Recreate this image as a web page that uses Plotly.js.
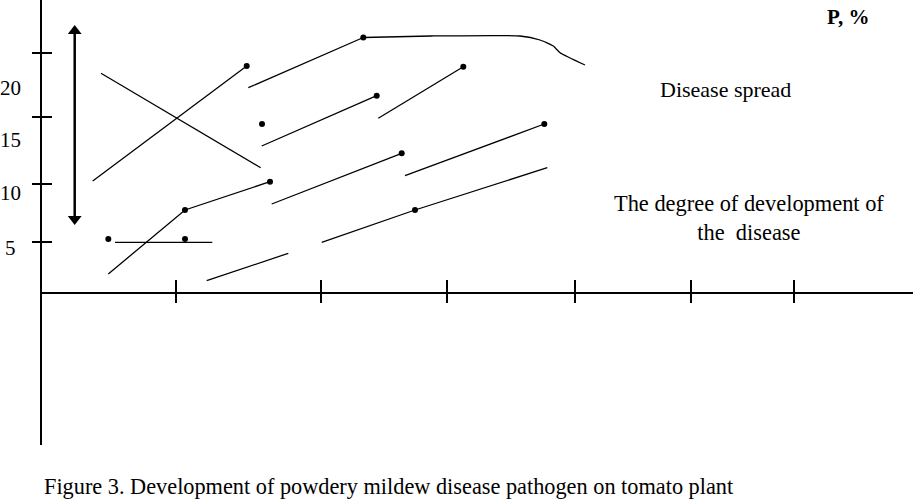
<!DOCTYPE html>
<html>
<head>
<meta charset="utf-8">
<script src="https://cdn.plot.ly/plotly-3.0.1.min.js"></script>
<style>html,body{margin:0;padding:0;background:#fff;}#chart{width:913px;height:500px;}</style>
</head>
<body>
<div id="chart"></div>
<script>
// Axis ticks and labels (P, % on the vertical axis; unlabelled time steps on the horizontal axis)
const yTickVals = [23.9, 17.5, 10.8, 5.0];
const yLabels = ['20', '15', '10', '5'];
const yLabelPos = [20.4, 15.2, 9.9, 4.4];
const xTickVals = [1.35, 2.80, 4.06, 5.34, 6.50, 7.53];

// Double-headed arrow (range of disease spread)
const arrowX = [0.337, 0.337];
const arrowY = [26.4, 7.4];
const arrowHeadY = [26.1, 7.3];

// Crossing lines
const crossAX = [0.60, 2.197], crossAY = [21.87, 12.43];
const crossBX = [0.517, 2.057], crossBY = [11.1, 22.6];

// Development segments
const rise1X = [0.673, 1.44, 2.29], rise1Y = [1.8, 8.2, 11.03];
const flatX = [0.74, 1.713], flatY = [4.97, 4.97];
const low1X = [1.657, 2.473], low1Y = [1.13, 3.87];
const topRiseX = [2.073, 3.223], topRiseY = [20.43, 25.45];
const plateauX = [3.223, 3.9, 4.79, 4.99, 5.123, 5.19, 5.44];
const plateauY = [25.45, 25.6, 25.6, 25.2, 24.6, 23.93, 22.7];
const mid1X = [2.207, 3.357], mid1Y = [14.6, 19.63];
const mid2X = [3.373, 4.223], mid2Y = [17.37, 22.53];
const mid3X = [2.307, 3.607], mid3Y = [8.8, 13.87];
const mid4X = [3.64, 5.033], mid4Y = [11.63, 16.8];
const low2X = [2.807, 3.74, 5.063], low2Y = [4.97, 8.2, 12.43];

// Observation dots
const dotX = [2.057, 1.44, 2.29, 0.673, 1.44, 2.21, 3.223, 3.357, 4.223, 3.607, 5.033, 3.74];
const dotY = [22.6, 8.2, 11.03, 5.3, 5.3, 16.8, 25.45, 19.63, 22.53, 13.87, 16.8, 8.2];

const FONT = 'Liberation Serif, Times New Roman, serif';
const thin = {color: '#000', width: 1.3};

function seg(x, y, extra) {
  return Object.assign({type: 'scatter', mode: 'lines', x: x, y: y, line: thin, hoverinfo: 'skip', showlegend: false}, extra || {});
}

const traces = [
  seg(crossAX, crossAY), seg(crossBX, crossBY),
  seg(rise1X, rise1Y), seg(flatX, flatY), seg(low1X, low1Y),
  seg(topRiseX, topRiseY),
  seg(plateauX, plateauY, {line: {color: '#000', width: 1.3, shape: 'spline', smoothing: 0.5}}),
  seg(mid1X, mid1Y), seg(mid2X, mid2Y), seg(mid3X, mid3Y), seg(mid4X, mid4Y),
  seg(low2X, low2Y),
  seg(arrowX, arrowY, {line: {color: '#000', width: 2.5}}),
  {type: 'scatter', mode: 'markers', x: arrowX, y: arrowHeadY, hoverinfo: 'skip', showlegend: false,
   marker: {symbol: ['triangle-up', 'triangle-down'], size: 12, color: '#000'}},
  {type: 'scatter', mode: 'markers', x: dotX, y: dotY, hoverinfo: 'skip', showlegend: false,
   marker: {size: 6, color: '#000'}},
  {type: 'scatter', mode: 'markers', x: [xTickVals[0]], y: [yTickVals[0]], xaxis: 'x2', yaxis: 'y2',
   hoverinfo: 'skip', showlegend: false, marker: {opacity: 0}}
];

const xRange = [0, 8.72];
const yRange = [-15.3, 29.2];
const axPos = 153 / 445;

const layout = {
  width: 913, height: 500,
  margin: {l: 41, r: 0, t: 0, b: 55, pad: 0},
  paper_bgcolor: '#fff', plot_bgcolor: '#fff',
  showlegend: false,
  font: {family: FONT, color: '#000', size: 20},
  xaxis: {range: xRange, anchor: 'free', position: axPos, showline: true, linecolor: '#000', linewidth: 1.5,
          ticks: 'outside', ticklen: 9, tickwidth: 1.5, tickcolor: '#000', tickvals: xTickVals,
          showticklabels: false, showgrid: false, zeroline: false, fixedrange: true},
  xaxis2: {range: xRange, overlaying: 'x', anchor: 'free', position: axPos, showline: false,
           ticks: 'inside', ticklen: 12, tickwidth: 1.5, tickcolor: '#000', tickvals: xTickVals,
           showticklabels: false, showgrid: false, zeroline: false, fixedrange: true},
  yaxis: {range: yRange, anchor: 'free', position: 0, showline: true, linecolor: '#000', linewidth: 2,
          ticks: 'outside', ticklen: 8, tickwidth: 1.5, tickcolor: '#000', tickvals: yTickVals,
          showticklabels: false, showgrid: false, zeroline: false, fixedrange: true},
  yaxis2: {range: yRange, overlaying: 'y', anchor: 'free', position: 0, side: 'left', showline: false,
           ticks: 'inside', ticklen: 10, tickwidth: 1.5, tickcolor: '#000', tickvals: yTickVals,
           showticklabels: false, showgrid: false, zeroline: false, fixedrange: true},
  annotations: []
};

yLabels.forEach(function (t, i) {
  layout.annotations.push({text: t, xref: 'paper', yref: 'y', x: -0.0345, y: yLabelPos[i],
    xanchor: 'center', yanchor: 'middle', showarrow: false, font: {family: FONT, size: 21, color: '#000'}});
});

layout.annotations.push(
  {text: '<b>P, %</b>', xref: 'x', yref: 'y', x: 8.07, y: 27.5, xanchor: 'center', yanchor: 'middle',
   showarrow: false, font: {family: FONT, size: 21, color: '#000'}},
  {text: 'Disease spread', xref: 'x', yref: 'y', x: 6.84, y: 20.3, xanchor: 'center', yanchor: 'middle',
   showarrow: false, font: {family: FONT, size: 22, color: '#000'}},
  {text: 'The degree of development of<br>the\u00a0\u00a0disease', xref: 'x', yref: 'y', x: 7.075, y: 7.4,
   xanchor: 'center', yanchor: 'middle', align: 'center', showarrow: false,
   font: {family: FONT, size: 22.4, color: '#000'}},
  {text: 'Figure 3. Development of powdery mildew disease pathogen on tomato plant', xref: 'paper', yref: 'paper',
   x: 0.001, y: -0.094, xanchor: 'left', yanchor: 'middle', showarrow: false,
   font: {family: FONT, size: 22.3, color: '#000'}}
);

Plotly.newPlot('chart', traces, layout, {staticPlot: true, displayModeBar: false});
</script>
</body>
</html>
